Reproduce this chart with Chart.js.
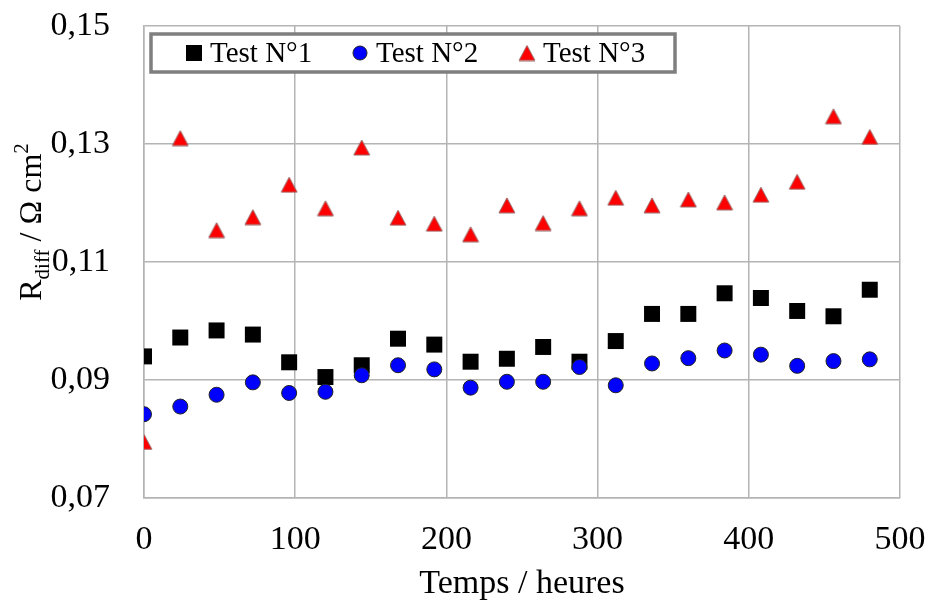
<!DOCTYPE html>
<html lang="fr">
<head>
    <meta charset="UTF-8">
    <title>Rdiff en fonction du temps</title>
    <style>
        body {
            margin: 0;
            background-color: #ffffff;
        }
        #wrap {
            width: 929px;
            height: 601px;
        }
    </style>
</head>
<body>
    <div id="wrap">
        <canvas id="rdiffChart" width="929" height="601"></canvas>
    </div>

    <script src="https://cdn.jsdelivr.net/npm/chart.js"></script>
    <script>
        // Temps en heures (un point toutes les 24 h)
        const hours = [0, 24, 48, 72, 96, 120, 144, 168, 192, 216, 240, 264, 288, 312, 336, 360, 384, 408, 432, 456, 480];

        // Rdiff (Ohm cm2)
        const test1 = [0.0940, 0.0972, 0.0984, 0.0977, 0.0930, 0.0905, 0.0925, 0.0970, 0.0960, 0.0931, 0.0936,
                       0.0956, 0.0931, 0.0966, 0.1012, 0.1012, 0.1047, 0.1039, 0.1017, 0.1008, 0.1053];
        const test2 = [0.0842, 0.0855, 0.0875, 0.0896, 0.0878, 0.0880, 0.0908, 0.0925, 0.0918, 0.0887, 0.0897,
                       0.0897, 0.0922, 0.0891, 0.0928, 0.0937, 0.0950, 0.0943, 0.0924, 0.0932, 0.0935];
        const test3 = [0.0795, 0.1310, 0.1154, 0.1176, 0.1231, 0.1191, 0.1294, 0.1175, 0.1165, 0.1147, 0.1196,
                       0.1166, 0.1191, 0.1209, 0.1196, 0.1206, 0.1201, 0.1214, 0.1236, 0.1347, 0.1312];

        const seriesNames = ['Test N°1', 'Test N°2', 'Test N°3'];
        const xTicks = [0, 100, 200, 300, 400, 500];
        const yTicks = [0.07, 0.09, 0.11, 0.13, 0.15];

        const serif = '"Liberation Serif", "Times New Roman", serif';
        const gridColor = '#b4b4b4';

        // triangle centre sur sa boite (comme Excel)
        function makeTriangle(w, h) {
            const c = document.createElement('canvas');
            c.width = w + 2;
            c.height = h + 2;
            const g = c.getContext('2d');
            g.beginPath();
            g.moveTo(1 + w / 2, 1);
            g.lineTo(1 + w, 1 + h);
            g.lineTo(1, 1 + h);
            g.closePath();
            g.fillStyle = '#ff0000';
            g.fill();
            g.strokeStyle = '#9a6a6a';
            g.lineWidth = 1;
            g.stroke();
            return c;
        }
        const triangle = makeTriangle(16, 15);

        function toPoints(ys) {
            return hours.map((h, i) => ({ x: h, y: ys[i] }));
        }

        // titre de l'axe Y avec indice et exposant
        const yTitlePlugin = {
            id: 'yTitle',
            afterDraw(chart) {
                const ctx = chart.ctx;
                const parts = [
                    { t: 'R', size: 32, dy: 0 },
                    { t: 'diff', size: 21, dy: 8 },
                    { t: ' / Ω cm', size: 32, dy: 0 },
                    { t: '2', size: 21, dy: -13 }
                ];
                ctx.save();
                ctx.translate(30, 222);
                ctx.rotate(-Math.PI / 2);
                ctx.fillStyle = '#000';
                ctx.textBaseline = 'alphabetic';
                let total = 0;
                parts.forEach(p => {
                    ctx.font = p.size + 'px ' + serif;
                    p.w = ctx.measureText(p.t).width;
                    total += p.w;
                });
                let x = -total / 2;
                parts.forEach(p => {
                    ctx.font = p.size + 'px ' + serif;
                    ctx.fillText(p.t, x, 11 + p.dy);
                    x += p.w;
                });
                ctx.restore();
            }
        };

        // legende encadree dans la zone du graphique
        const legendBoxPlugin = {
            id: 'legendBox',
            afterDatasetsDraw(chart) {
                const ctx = chart.ctx;
                const box = { x: 151, y: 34, w: 524, h: 38 };
                ctx.save();
                ctx.fillStyle = '#ffffff';
                ctx.fillRect(box.x, box.y, box.w, box.h);
                ctx.strokeStyle = '#7f7f7f';
                ctx.lineWidth = 3.5;
                ctx.strokeRect(box.x, box.y, box.w, box.h);

                const cy = box.y + box.h / 2;
                const markerX = [194, 360, 527];
                ctx.font = '29px ' + serif;
                ctx.textBaseline = 'middle';

                // carre
                ctx.fillStyle = '#000000';
                ctx.fillRect(markerX[0] - 8, cy - 8, 16, 16);
                // cercle
                ctx.beginPath();
                ctx.arc(markerX[1], cy, 7, 0, Math.PI * 2);
                ctx.fillStyle = '#0000ff';
                ctx.fill();
                ctx.strokeStyle = '#222';
                ctx.lineWidth = 1;
                ctx.stroke();
                // triangle
                ctx.drawImage(triangle, markerX[2] - triangle.width / 2, cy - triangle.height / 2);

                ctx.fillStyle = '#000';
                seriesNames.forEach((name, i) => {
                    ctx.fillText(name, markerX[i] + 16, cy + 1);
                });
                ctx.restore();
            }
        };

        const ctx = document.getElementById('rdiffChart').getContext('2d');
        new Chart(ctx, {
            type: 'scatter',
            data: {
                datasets: [
                    {
                        label: seriesNames[0],
                        data: toPoints(test1),
                        pointStyle: 'rect',
                        pointRadius: 11.3,
                        backgroundColor: '#000000',
                        borderColor: '#000000',
                        borderWidth: 0,
                        order: 3
                    },
                    {
                        label: seriesNames[1],
                        data: toPoints(test2),
                        pointStyle: 'circle',
                        pointRadius: 7.5,
                        backgroundColor: '#0000ff',
                        borderColor: '#222222',
                        borderWidth: 1,
                        order: 2
                    },
                    {
                        label: seriesNames[2],
                        data: toPoints(test3),
                        pointStyle: triangle,
                        pointRadius: 9,
                        backgroundColor: '#ff0000',
                        borderColor: '#ff0000',
                        order: 1
                    }
                ]
            },
            options: {
                responsive: false,
                animation: false,
                layout: {
                    padding: { top: 26, right: 29, left: 0, bottom: 0 }
                },
                plugins: {
                    legend: { display: false },
                    tooltip: { enabled: false }
                },
                scales: {
                    x: {
                        type: 'linear',
                        min: 0,
                        max: 500,
                        afterBuildTicks: scale => {
                            scale.ticks = xTicks.map(v => ({ value: v }));
                        },
                        afterFit: scale => {
                            scale.height = 103;
                            scale.paddingLeft = 0;
                            scale.paddingRight = 0;
                        },
                        grid: {
                            color: gridColor,
                            lineWidth: 1.5,
                            drawTicks: false
                        },
                        border: { color: gridColor, width: 1.5 },
                        ticks: {
                            padding: 22,
                            color: '#000',
                            font: { family: serif, size: 34 }
                        },
                        title: {
                            display: true,
                            text: 'Temps / heures',
                            color: '#000',
                            padding: 0,
                            font: { family: serif, size: 34, lineHeight: 1 }
                        }
                    },
                    y: {
                        min: 0.07,
                        max: 0.15,
                        afterBuildTicks: scale => {
                            scale.ticks = yTicks.map(v => ({ value: v }));
                        },
                        afterFit: scale => {
                            scale.width = 144;
                            scale.paddingTop = 0;
                            scale.paddingBottom = 0;
                        },
                        grid: {
                            color: gridColor,
                            lineWidth: 1.5,
                            drawTicks: false
                        },
                        border: { color: gridColor, width: 1.5 },
                        ticks: {
                            padding: 34,
                            color: '#000',
                            font: { family: serif, size: 34 },
                            callback: v => v.toFixed(2).replace('.', ',')
                        }
                    }
                }
            },
            plugins: [yTitlePlugin, legendBoxPlugin]
        });
    </script>
</body>
</html>
